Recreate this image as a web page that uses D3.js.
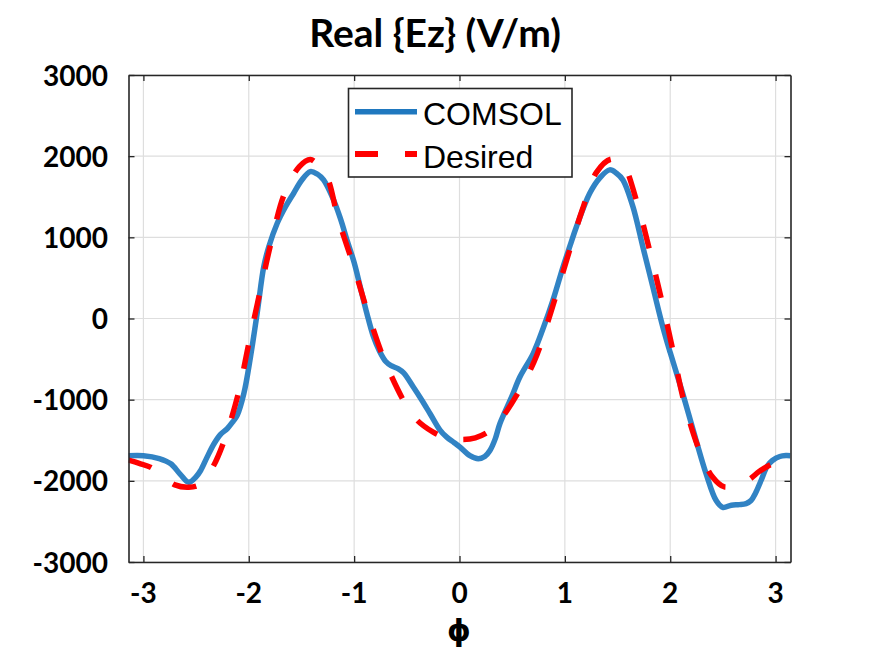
<!DOCTYPE html>
<html>
<head>
<meta charset="utf-8">
<script src="https://cdn.jsdelivr.net/npm/d3@7"></script>
<style>
  html, body { margin: 0; padding: 0; background: #fff; }
  svg { display: block; }
</style>
</head>
<body>
<svg id="chart" width="873" height="653"></svg>
<script>
// ---- data ----
const titleText = "Real {Ez} (V/m)";
const xLabelText = "\u03d5";
const legendLabels = ["COMSOL", "Desired"];
const xTicks = [-3, -2, -1, 0, 1, 2, 3];
const yTicks = [-3000, -2000, -1000, 0, 1000, 2000, 3000];

const phiComsol = [-3.1416, -3.0, -2.85, -2.74, -2.65, -2.57, -2.50, -2.457, -2.40, -2.33, -2.27, -2.205, -2.15, -2.11, -2.047, -1.984, -1.92, -1.858, -1.81, -1.73, -1.65, -1.574, -1.50, -1.416, -1.35, -1.29, -1.195, -1.13, -1.068, -1.00, -0.942, -0.879, -0.816, -0.76, -0.70, -0.65, -0.58, -0.53, -0.44, -0.36, -0.279, -0.185, -0.121, -0.05, 0.005, 0.099, 0.178, 0.24, 0.289, 0.34, 0.383, 0.494, 0.573, 0.699, 0.794, 0.888, 0.983, 1.05, 1.11, 1.236, 1.33, 1.425, 1.49, 1.551, 1.646, 1.74, 1.835, 1.93, 2.0, 2.119, 2.246, 2.341, 2.436, 2.498, 2.58, 2.656, 2.72, 2.767, 2.81, 2.862, 2.92, 2.97, 3.04, 3.098, 3.1416];
const ezComsol = [-1690, -1690, -1725, -1790, -1920, -2017, -1950, -1873, -1720, -1543, -1430, -1358, -1270, -1194, -926, -474, 70, 637, 884, 1173, 1380, 1543, 1700, 1810, 1780, 1707, 1460, 1230, 967, 690, 390, 62, -227, -400, -530, -580, -620, -670, -840, -1000, -1173, -1375, -1462, -1530, -1585, -1690, -1728, -1700, -1626, -1480, -1296, -968, -721, -432, -120, 230, 637, 900, 1131, 1543, 1730, 1831, 1790, 1707, 1378, 884, 390, -104, -420, -926, -1502, -1914, -2243, -2326, -2300, -2293, -2280, -2243, -2150, -1996, -1820, -1749, -1700, -1688, -1690];

const phiDesired = [-3.1416, -3.04, -2.93, -2.82, -2.70, -2.57, -2.46, -2.35, -2.244, -2.102, -2.0, -1.897, -1.79, -1.66, -1.52, -1.416, -1.33, -1.25, -1.155, -1.0, -0.86, -0.682, -0.429, -0.25, -0.12, 0.02, 0.15, 0.30, 0.447, 0.707, 0.868, 1.015, 1.165, 1.30, 1.44, 1.55, 1.678, 1.804, 1.92, 2.025, 2.128, 2.277, 2.40, 2.514, 2.625, 2.735, 2.85, 2.97, 3.1416];
const ezDesired = [-1745, -1785, -1835, -1940, -2050, -2078, -2040, -1850, -1543, -937, -309, 308, 925, 1543, 1870, 1958, 1870, 1720, 1245, 627, 30, -607, -1215, -1400, -1470, -1490, -1470, -1370, -1142, -535, 82, 713, 1337, 1800, 1963, 1900, 1460, 843, 216, -391, -1009, -1626, -1950, -2075, -2037, -1996, -1880, -1790, -1740];

// ---- layout ----
const svg = d3.select("#chart");
const pL = 128.5, pR = 790.5, pT = 75, pB = 562;
const x = d3.scaleLinear().domain([-Math.PI, Math.PI]).range([pL, pR]);
const y = d3.scaleLinear().domain([-3000, 3000]).range([pB, pT]);

const axisColor = "#262626";
const gridColor = "#dedede";
const tickFont = "Lato, 'Liberation Sans', Arial, sans-serif";

// grid
const grid = svg.append("g");
grid.selectAll("line.gx").data(xTicks).join("line")
  .attr("x1", d => x(d)).attr("x2", d => x(d))
  .attr("y1", pT).attr("y2", pB)
  .attr("stroke", gridColor).attr("stroke-width", 1.2);
grid.selectAll("line.gy").data(yTicks).join("line")
  .attr("x1", pL).attr("x2", pR)
  .attr("y1", d => y(d)).attr("y2", d => y(d))
  .attr("stroke", gridColor).attr("stroke-width", 1.2);

// clip
svg.append("clipPath").attr("id", "clip")
  .append("rect").attr("x", pL).attr("y", pT)
  .attr("width", pR - pL).attr("height", pB - pT);

const line = d3.line().curve(d3.curveCatmullRom.alpha(0.5))
  .x(d => x(d[0])).y(d => y(d[1]));

const comsol = phiComsol.map((p, i) => [p, ezComsol[i]]);
const desired = phiDesired.map((p, i) => [p, ezDesired[i]]);

const plot = svg.append("g").attr("clip-path", "url(#clip)");
plot.append("path").datum(comsol)
  .attr("d", line).attr("fill", "none")
  .attr("stroke", "#1f78bf").attr("stroke-width", 5.5)
  .attr("stroke-opacity", 0.92)
  .attr("stroke-linejoin", "round");
plot.append("path").datum(desired)
  .attr("d", line).attr("fill", "none")
  .attr("stroke", "#ff0000").attr("stroke-width", 5.5)
  .attr("stroke-dasharray", "24,27");

// axes box with inward ticks (top/right mirrored)
const axBottom = d3.axisBottom(x).tickValues(xTicks).tickSize(-6).tickSizeOuter(0).tickFormat("");
const axTop = d3.axisTop(x).tickValues(xTicks).tickSize(-6).tickSizeOuter(0).tickFormat("");
const axLeft = d3.axisLeft(y).tickValues(yTicks).tickSize(-6).tickSizeOuter(0).tickFormat("");
const axRight = d3.axisRight(y).tickValues(yTicks).tickSize(-6).tickSizeOuter(0).tickFormat("");
function styleAxis(g) {
  g.selectAll("path.domain").attr("stroke", axisColor).attr("stroke-width", 1.6);
  g.selectAll(".tick line").attr("stroke", axisColor).attr("stroke-width", 1.3);
}
svg.append("g").attr("transform", `translate(0,${pB})`).call(axBottom).call(styleAxis);
svg.append("g").attr("transform", `translate(0,${pT})`).call(axTop).call(styleAxis);
svg.append("g").attr("transform", `translate(${pL},0)`).call(axLeft).call(styleAxis);
svg.append("g").attr("transform", `translate(${pR},0)`).call(axRight).call(styleAxis);

// tick labels
svg.append("g").selectAll("text").data(xTicks).join("text")
  .attr("x", d => x(d)).attr("y", 603)
  .attr("text-anchor", "middle")
  .attr("font-family", tickFont).attr("font-weight", "bold").attr("font-size", 28)
  .attr("fill", "#000")
  .text(d => d < 0 ? "-" + Math.abs(d) : String(d));
svg.append("g").selectAll("text").data(yTicks).join("text")
  .attr("x", 108).attr("y", d => y(d) + 10.5)
  .attr("text-anchor", "end")
  .attr("font-family", tickFont).attr("font-weight", "bold").attr("font-size", 28)
  .attr("fill", "#000")
  .text(d => d < 0 ? "-" + Math.abs(d) : String(d));

// title
svg.append("text").attr("x", 435).attr("y", 47)
  .attr("text-anchor", "middle")
  .attr("font-family", tickFont).attr("font-weight", "bold").attr("font-size", 39)
  .attr("fill", "#000").text(titleText);

// x label
svg.append("text").attr("x", 459).attr("y", 641)
  .attr("text-anchor", "middle")
  .attr("font-family", "'DejaVu Sans', sans-serif").attr("font-weight", "bold").attr("font-size", 30)
  .attr("fill", "#000").text(xLabelText);

// legend
const lg = svg.append("g");
lg.append("rect").attr("x", 348.5).attr("y", 88.5).attr("width", 223.5).attr("height", 88.5)
  .attr("fill", "#fff").attr("stroke", axisColor).attr("stroke-width", 1.6);
lg.append("line").attr("x1", 355).attr("x2", 417).attr("y1", 111.7).attr("y2", 111.7)
  .attr("stroke", "#1f78bf").attr("stroke-width", 5.5);
lg.append("line").attr("x1", 355).attr("x2", 417).attr("y1", 154).attr("y2", 154)
  .attr("stroke", "#ff0000").attr("stroke-width", 6).attr("stroke-dasharray", "23,27");
lg.selectAll("text").data(legendLabels).join("text")
  .attr("x", 423).attr("y", (d, i) => i === 0 ? 125 : 167.7)
  .attr("font-family", "'Liberation Sans', Arial, sans-serif").attr("font-size", 32)
  .attr("fill", "#000").text(d => d);
</script>
</body>
</html>
